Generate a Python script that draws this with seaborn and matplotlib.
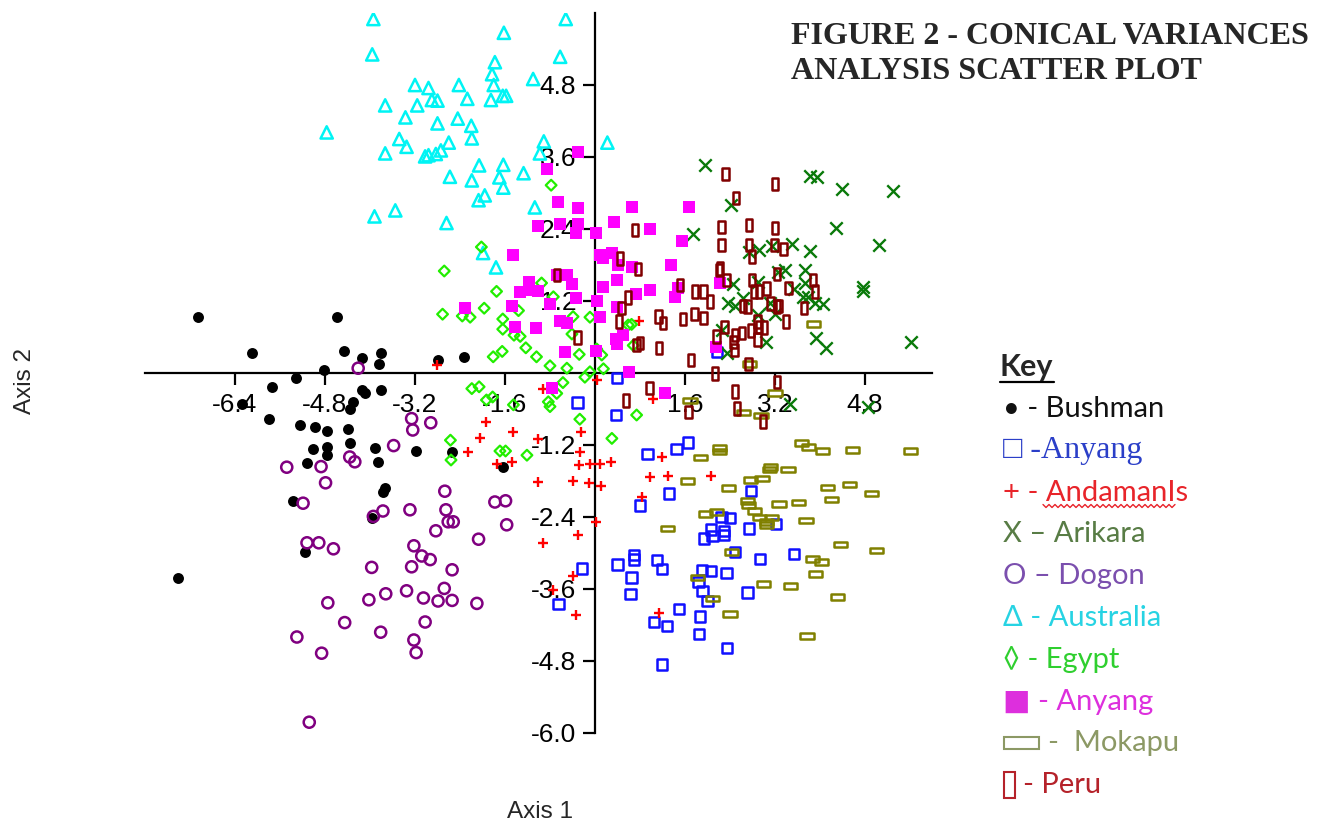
import numpy as np
import matplotlib
matplotlib.use("Agg")
import matplotlib.pyplot as plt
import seaborn as sns
from matplotlib.path import Path
from matplotlib.lines import Line2D
from matplotlib.patches import Rectangle

# ---------------- data (Axis 1, Axis 2) ----------------
bushman = [(-7.05,0.93),(-6.09,0.33),(-4.59,0.93),(-4.46,0.36),(-4.82,0.05),(-5.31,-0.08),(-5.75,-0.23),
           (-6.28,-0.52),(-5.80,-0.77),(-5.25,-0.87),(-4.98,-0.90),(-4.76,-0.96),(-5.01,-1.27),(-4.76,-1.23),
           (-4.76,-1.37),(-5.12,-1.50),(-5.37,-2.13),(-5.15,-2.99),(-7.42,-3.41),(-4.15,0.25),(-3.81,0.33),
           (-3.84,0.15),(-2.79,0.21),(-2.33,0.27),(-4.15,-0.29),(-4.09,-0.34),(-3.80,-0.29),(-4.30,-0.48),
           (-4.36,-0.60),(-4.39,-0.93),(-4.36,-1.17),(-3.91,-1.25),(-3.85,-1.49),(-3.18,-1.30),(-2.55,-1.31),
           (-1.63,-1.56),(-3.73,-1.92),(-3.77,-1.98),(-3.96,-2.42)]

anyang_blue = [(0.39,-0.08),(-0.31,-0.49),(0.37,-0.70),(2.17,0.35),(0.93,-1.35),(1.45,-1.27),(1.65,-1.16),
               (1.32,-2.01),(0.80,-2.21),(-0.23,-3.26),(-0.65,-3.85),(0.40,-3.19),(0.69,-3.03),(0.69,-3.11),
               (0.65,-3.41),(0.63,-3.68),(1.10,-3.12),(1.19,-3.27),(1.49,-3.93),(1.05,-4.15),(1.28,-4.22),
               (1.87,-4.06),(1.85,-4.35),(1.19,-4.86),(2.35,-4.58),(1.94,-2.76),(2.06,-2.61),(2.25,-2.40),
               (2.40,-2.42),(2.29,-2.63),(2.29,-2.70),(2.09,-2.72),(2.49,-2.98),(1.90,-3.28),(2.06,-3.30),
               (1.84,-3.48),(1.91,-3.63),(2.00,-3.80),(2.34,-3.33),(2.77,-1.97),(2.74,-2.59),(3.22,-2.52),
               (2.93,-3.10),(3.54,-3.02),(2.71,-3.66)]

andaman = [(-2.81,0.13),(-1.94,-0.81),(-1.45,-0.99),(-2.04,-1.08),(-1.01,-1.10),(-2.26,-1.32),(-1.75,-1.52),
           (-1.48,-1.49),(-1.01,-1.81),(0.79,0.87),(0.03,-0.12),(-0.92,-0.26),(1.04,-0.43),(-0.24,-0.98),
           (-0.27,-1.31),(-0.28,-1.53),(-0.09,-1.52),(0.09,-1.52),(0.28,-1.48),(-0.39,-1.80),(-0.10,-1.83),
           (0.11,-1.88),(0.97,-1.74),(1.29,-1.72),(2.07,-1.71),(0.83,-2.06),(1.19,-1.40),(0.02,-2.49),
           (-0.31,-2.70),(-0.92,-2.84),(-0.39,-3.38),(-0.75,-3.62),(-0.33,-4.03),(1.13,-4.00)]

arikara = [(1.96,3.47),(2.41,2.80),(1.74,2.31),(3.83,3.28),(3.95,3.26),(4.40,3.06),(5.30,3.04),(4.28,2.42),
           (5.05,2.13),(2.73,2.01),(2.92,2.05),(3.14,2.12),(3.51,2.15),(3.82,2.03),(3.38,1.72),(3.26,1.69),
           (3.73,1.72),(2.46,1.48),(2.90,1.52),(3.73,1.50),(3.53,1.40),(3.70,1.27),(3.79,1.27),(2.37,1.16),
           (2.64,1.25),(2.49,1.12),(3.91,1.17),(4.06,1.15),(3.20,0.98),(2.90,0.97),(3.11,1.16),(4.77,1.44),
           (4.77,1.37),(3.04,0.52),(3.93,0.59),(4.11,0.41),(5.61,0.51),(2.34,0.33),(3.47,-0.52),(4.86,-0.56),
           (2.25,0.72)]

dogon = [(-5.48,-1.57),(-4.87,-1.56),(-4.79,-1.83),(-5.19,-2.17),(-5.12,-2.83),(-4.91,-2.83),(-4.65,-2.93),
         (-4.75,-3.83),(-4.45,-4.16),(-5.30,-4.40),(-4.86,-4.67),(-5.08,-5.82),(-4.21,0.08),(-3.26,-0.76),
         (-2.92,-0.83),(-3.24,-0.95),(-3.58,-1.21),(-4.36,-1.40),(-4.27,-1.48),(-2.67,-1.97),(-1.78,-2.15),
         (-1.59,-2.13),(-3.94,-2.39),(-3.77,-2.30),(-3.29,-2.28),(-2.65,-2.28),(-2.61,-2.48),(-2.52,-2.48),
         (-2.83,-2.63),(-1.57,-2.53),(-2.07,-2.77),(-3.22,-2.88),(-3.08,-3.05),(-2.93,-3.11),(-3.97,-3.24),
         (-3.26,-3.23),(-2.54,-3.28),(-2.68,-3.59),(-3.35,-3.63),(-3.72,-3.68),(-4.02,-3.78),(-3.05,-3.75),
         (-2.79,-3.80),(-2.54,-3.79),(-2.10,-3.84),(-3.02,-4.15),(-3.81,-4.32),(-3.22,-4.45),(-3.18,-4.66)]

australia = [(-3.94,5.90),(-1.62,5.67),(-3.96,5.31),(-1.78,5.18),(-1.83,4.98),(-1.80,4.80),(-1.10,4.90),
             (-3.20,4.80),(-2.96,4.75),(-2.42,4.80),(-1.64,4.62),(-1.58,4.62),(-2.90,4.55),(-2.80,4.54),
             (-2.27,4.57),(-1.85,4.55),(-3.73,4.46),(-3.16,4.46),(-3.37,4.26),(-2.80,4.16),(-2.44,4.24),
             (-2.20,4.12),(-4.77,4.01),(-2.19,3.91),(-3.48,3.90),(-3.35,3.77),(-2.60,3.84),(-3.73,3.66),
             (-3.02,3.61),(-2.96,3.63),(-2.83,3.65),(-2.74,3.71),(-2.06,3.46),(-1.63,3.47),(-1.27,3.33),
             (-2.58,3.27),(-2.19,3.21),(-1.70,3.26),(-1.63,3.09),(-2.07,2.88),(-1.96,2.96),(-3.92,2.61),
             (-3.55,2.71),(-2.64,2.50),(-1.07,2.76),(-0.52,5.90),(-0.62,5.27),(-0.91,3.86),(-0.98,3.66),
             (0.22,3.84),(-1.99,2.00),(-1.76,1.76)]

egypt = [(-0.78,3.13),(-2.02,2.10),(-2.68,1.70),(-1.75,1.36),(-2.71,0.98),(-2.36,0.95),(-2.22,0.93),
         (-1.97,1.08),(-1.64,0.90),(-1.64,0.73),(-1.36,1.04),(-1.33,0.61),(-1.44,0.63),(-1.23,0.42),
         (-1.04,0.27),(-1.65,0.36),(-1.81,0.27),(-2.19,-0.26),(-2.06,-0.23),(-1.93,-0.45),(-1.82,-0.40),
         (-1.45,-0.53),(-2.57,-1.12),(-2.56,-1.45),(-1.69,-1.30),(-1.59,-1.30),(-1.21,-1.37),(-0.95,1.50),
         (-0.74,1.27),(-0.41,0.65),(-0.39,0.94),(-0.09,0.93),(-0.28,0.31),(-0.80,0.12),(-0.50,0.08),
         (-0.18,-0.07),(-0.09,0.02),(0.15,0.07),(-0.57,-0.16),(-0.68,-0.34),(-0.83,-0.48),(-0.80,-0.56),
         (-0.27,-0.77),(0.74,-0.70),(0.30,-1.09),(0.59,0.80),(0.65,0.81),(0.68,0.46),(0.03,0.40),(0.12,0.30)]

anyang_magenta = [(-0.30,3.68),(-0.86,3.40),(-0.65,2.85),(-0.31,2.75),(0.66,2.76),(1.68,2.76),(-1.01,2.45),
                  (-0.62,2.48),(-0.30,2.48),(-0.33,2.34),(0.02,2.33),(0.34,2.51),(0.97,2.40),(1.55,2.20),
                  (0.31,2.00),(0.09,1.97),(-1.45,1.97),(-1.17,1.52),(-1.17,1.38),(-1.33,1.35),(-1.48,1.12),
                  (-2.31,1.09),(-1.42,0.76),(-1.04,0.75),(-1.01,1.36),(0.15,1.92),(0.41,1.80),(0.65,1.76),
                  (1.35,1.80),(-0.50,1.63),(-0.41,1.48),(-0.68,1.63),(0.39,1.55),(0.15,1.43),(0.73,1.31),
                  (0.98,1.38),(1.48,1.41),(1.42,1.26),(2.22,1.50),(-0.33,1.25),(0.04,1.20),(0.39,1.10),
                  (-0.80,1.15),(-0.62,0.86),(-0.50,0.83),(0.09,0.94),(0.50,0.63),(0.37,0.57),(0.39,0.48),
                  (-0.53,0.35),(0.02,0.37),(0.61,0.02),(-0.77,-0.25),(1.24,-0.33),(2.15,0.43)]

mokapu = [(1.69,-0.46),(1.88,-1.41),(2.22,-1.25),(2.22,-1.31),(1.65,-1.80),(2.37,-1.92),(1.29,-2.59),
          (1.97,-2.35),(2.16,-2.32),(2.42,-2.98),(1.82,-3.41),(2.09,-3.76),(2.40,-4.02),(3.89,0.82),
          (2.74,0.15),(3.20,-0.33),(2.64,-0.66),(2.95,-0.71),(3.67,-1.17),(3.79,-1.23),(4.04,-1.30),
          (4.58,-1.28),(5.61,-1.30),(3.12,-1.57),(3.10,-1.61),(3.43,-1.61),(2.77,-1.78),(2.97,-1.76),
          (4.13,-1.91),(4.52,-1.86),(4.92,-2.01),(4.21,-2.11),(2.71,-2.13),(2.73,-2.20),(2.83,-2.30),
          (3.27,-2.18),(3.62,-2.16),(2.93,-2.41),(3.14,-2.41),(3.05,-2.48),(3.05,-2.53),(3.75,-2.46),
          (4.37,-2.86),(5.01,-2.96),(3.87,-3.10),(4.03,-3.15),(3.92,-3.35),(2.99,-3.52),(3.48,-3.55),
          (4.31,-3.73),(3.77,-4.38)]

peru = [(2.32,3.32),(2.51,2.92),(2.25,2.43),(2.25,2.13),(0.71,2.38),(3.20,3.15),(2.74,2.47),(3.20,2.42),
        (2.74,2.13),(3.19,2.13),(3.35,2.07),(2.79,1.94),(2.22,1.74),(2.34,1.55),(2.79,1.55),(3.05,1.41),
        (3.24,1.65),(3.44,1.42),(3.88,1.55),(3.91,1.36),(2.83,1.36),(2.92,1.36),(2.63,1.12),(2.71,1.11),
        (3.12,1.16),(3.24,1.11),(3.27,1.12),(3.72,1.08),(3.40,0.86),(2.30,0.77),(2.89,0.86),(2.92,0.77),
        (3.01,0.76),(2.77,0.71),(2.61,0.67),(2.49,0.63),(2.46,0.52),(2.89,0.56),(2.48,0.38),(2.73,0.15),
        (3.24,-0.15),(-0.67,1.63),(-0.31,0.59),(0.47,1.08),(0.59,1.26),(0.77,1.73),(0.44,1.91),(0.80,0.50),
        (0.74,0.47),(1.14,0.42),(1.13,0.94),(1.21,0.83),(1.57,0.90),(1.77,0.98),(1.93,0.92),(1.78,1.36),
        (1.93,1.36),(2.04,1.19),(1.51,1.47),(1.71,0.22),(2.21,1.72),(2.16,0.61),(2.13,-0.01),(0.97,-0.25),
        (0.55,-0.46),(1.66,-0.65),(2.49,-0.31),(2.52,-0.59),(0.43,0.86),(2.99,-0.81)]

x_ticks = [-6.4, -4.8, -3.2, -1.6, 1.6, 3.2, 4.8]
y_ticks = [-6.0, -4.8, -3.6, -2.4, -1.2, 1.2, 2.4, 3.6, 4.8]

title_lines = ["FIGURE 2 - CONICAL VARIANCES", "ANALYSIS SCATTER PLOT"]
# (symbol, text, colour, font kind)
legend_entries = [
    ("\u2022", " - Bushman", "#111111", "sans"),
    ("\u25a1", " -Anyang", "#2b3fc8", "serif"),
    ("+", " - AndamanIs", "#e8242a", "sans"),
    ("X", " \u2013 Arikara", "#587c45", "sans"),
    ("O", " \u2013 Dogon", "#7b4fae", "sans"),
    ("\u0394", " - Australia", "#27d3e3", "sans"),
    ("\u25ca", " - Egypt", "#2fcf2f", "sans"),
    ("\u25a0", " - Anyang", "#dd2fdd", "sans"),
    ("rect_h", "-  Mokapu", "#8c9965", "sans"),
    ("rect_v", "- Peru", "#b5222a", "sans"),
]

# ---------------- styling ----------------
sns.set_style("ticks")
plt.rcParams['font.family'] = ['Liberation Sans', 'DejaVu Sans']

W, H = 1331, 825
fig = plt.figure(figsize=(W / 100, H / 100), dpi=100)
ax = fig.add_axes([145 / W, 1 - 733 / H, 787.5 / W, 720 / H])

rect_h = Path([(-1, -0.42), (1, -0.42), (1, 0.42), (-1, 0.42), (-1, -0.42)],
              [Path.MOVETO, Path.LINETO, Path.LINETO, Path.LINETO, Path.CLOSEPOLY])
rect_v = Path([(-0.5, -1), (0.5, -1), (0.5, 1), (-0.5, 1), (-0.5, -1)],
              [Path.MOVETO, Path.LINETO, Path.LINETO, Path.LINETO, Path.CLOSEPOLY])

groups = [
    (bushman, dict(marker='o', s=62, color='black', edgecolor='black', linewidth=0)),
    (anyang_blue, dict(marker='s', s=56, facecolor='none', edgecolor='#1010ff', linewidth=1.8)),
    (andaman, dict(marker='+', s=62, color='#ff0000', linewidth=1.7)),
    (arikara, dict(marker='x', s=80, color='#0a7a0a', linewidth=1.7)),
    (dogon, dict(marker='o', s=64, facecolor='none', edgecolor='#800080', linewidth=1.8)),
    (australia, dict(marker='^', s=78, facecolor='none', edgecolor='#00f4f4', linewidth=1.8)),
    (egypt, dict(marker='D', s=30, facecolor='none', edgecolor='#22ee00', linewidth=1.6)),
    (anyang_magenta, dict(marker='s', s=72, color='#ff00ff', edgecolor='#ff00ff', linewidth=0)),
    (mokapu, dict(marker=rect_h, s=90, facecolor='none', edgecolor='#808000', linewidth=1.8)),
    (peru, dict(marker=rect_v, s=82, facecolor='none', edgecolor='#800000', linewidth=1.8)),
]

for pts, style in groups:
    xs = [p[0] for p in pts]
    ys = [p[1] for p in pts]
    sns.scatterplot(x=xs, y=ys, ax=ax, zorder=3, **style)

ax.set_xlim(-8, 6)
ax.set_ylim(-6, 6)
ax.spines['left'].set_position(('data', 0))
ax.spines['bottom'].set_position(('data', 0))
ax.spines['top'].set_visible(False)
ax.spines['right'].set_visible(False)
for sp in ('left', 'bottom'):
    ax.spines[sp].set_color('black')
    ax.spines[sp].set_linewidth(1.6)
    ax.spines[sp].set_zorder(2)

ax.set_xticks(x_ticks)
ax.set_xticklabels([f"{v:.1f}" for v in x_ticks])
ax.set_yticks(y_ticks)
ax.set_yticklabels([f"{v:.1f}" for v in y_ticks])
ax.tick_params(axis='both', direction='out', length=8.5, width=1.6, colors='black',
               labelsize=19, bottom=True, left=True)
ax.tick_params(axis='x', pad=6)
ax.tick_params(axis='y', pad=5)
ax.set_xlabel('')
ax.set_ylabel('')
ax.patch.set_alpha(0)

# axis labels
fig.text(540 / W, 1 - 812 / H, "Axis 1", ha='center', va='center', fontsize=17.5)
fig.text(25 / W, 1 - 381 / H, "Axis 2", ha='center', va='center', fontsize=17.5, rotation=90)

# title
fig.text(791 / W, 1 - 44 / H, title_lines[0], ha='left', va='baseline', fontsize=23,
         fontweight='bold', family=['Liberation Serif', 'DejaVu Serif'])
fig.text(791 / W, 1 - 79 / H, title_lines[1], ha='left', va='baseline', fontsize=23,
         fontweight='bold', family=['Liberation Serif', 'DejaVu Serif'])

# key / legend built from text
fig.text(1000 / W, 1 - 367 / H, "Key", ha='left', va='center', fontsize=22, fontweight='bold',
         family=['Lato', 'DejaVu Sans'])
fig.add_artist(Line2D([1000 / W, 1054 / W], [1 - 382 / H, 1 - 382 / H], color='black', lw=1.6))

y0 = 409
dy = 41.8
for i, (sym, label, col, fam) in enumerate(legend_entries):
    yy = y0 + i * dy
    if fam == 'serif':
        famlist = ['Liberation Serif', 'DejaVu Sans']
        fs = 23
    else:
        famlist = ['Lato', 'DejaVu Sans']
        fs = 21
    if sym == 'rect_h':
        fig.add_artist(Rectangle((1004 / W, 1 - (yy + 6) / H), 35 / W, 12 / H, transform=fig.transFigure,
                                 fill=False, edgecolor=col, lw=1.5))
        fig.text(1048 / W, 1 - yy / H, label, ha='left', va='center', fontsize=fs, color=col, family=famlist)
    elif sym == 'rect_v':
        fig.add_artist(Rectangle((1004 / W, 1 - (yy + 13) / H), 11 / W, 26 / H, transform=fig.transFigure,
                                 fill=False, edgecolor=col, lw=1.5))
        fig.text(1023 / W, 1 - yy / H, label, ha='left', va='center', fontsize=fs, color=col, family=famlist)
    else:
        fig.text(1003 / W, 1 - yy / H, sym + label, ha='left', va='center', fontsize=fs, color=col,
                 family=famlist)

# wavy spell-check underline under "AndamanIs"
wx = np.arange(1043, 1178, 3.0)
wy = 506 + np.where(np.arange(len(wx)) % 2 == 0, -1.5, 1.5)
fig.add_artist(Line2D(wx / W, 1 - wy / H, color='#e8242a', lw=1.0))

fig.savefig("out.png", dpi=100)
